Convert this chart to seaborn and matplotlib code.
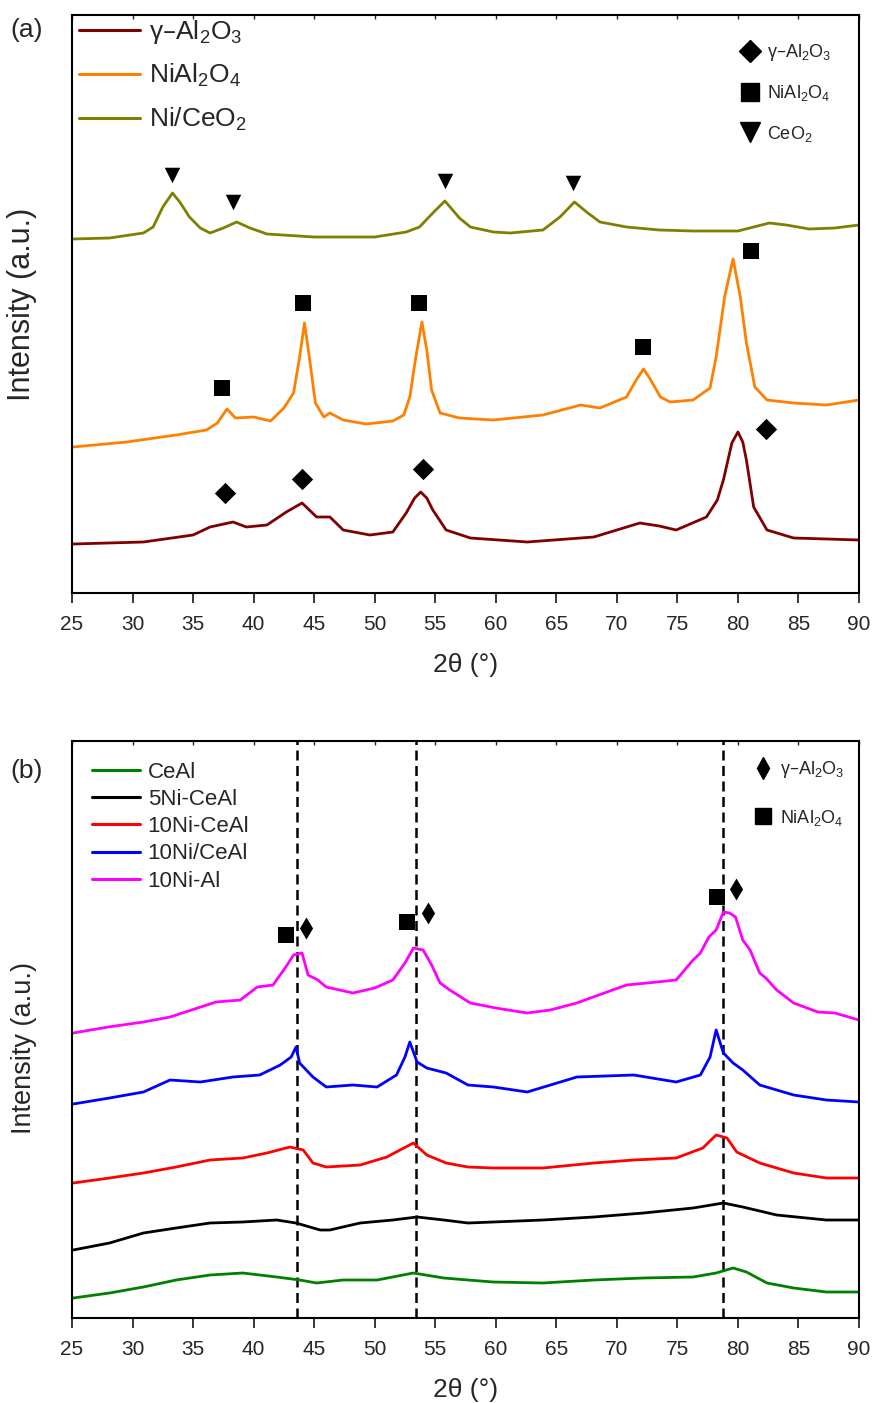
import matplotlib
matplotlib.use("Agg")
import matplotlib.pyplot as plt
from matplotlib.lines import Line2D
import numpy as np
import pandas as pd
import seaborn as sns

# ---------------- panel (a): 2theta (deg) / intensity (a.u.) ----------------
ceo2_tt = [25.1, 28.1, 30.9, 31.7, 32.5, 33.3, 33.9, 34.7, 35.6, 36.4, 37.5, 38.6, 39.7,
           41.1, 45.0, 50.0, 52.6, 53.7, 54.8, 55.8, 57.0, 57.9, 59.8, 61.2, 63.9, 65.3,
           66.5, 67.5, 68.6, 70.8, 73.5, 76.3, 80.0, 82.6, 84.0, 85.9, 88.0, 90.0]
ceo2_int = [354, 355, 360, 366, 386, 400, 391, 376, 365, 360, 365, 371, 365,
            359, 356, 356, 361, 366, 380, 392, 375, 366, 361, 360, 363, 376,
            391, 381, 371, 366, 363, 362, 362, 370, 368, 364, 365, 368]

nial_tt = [25.1, 29.5, 33.6, 36.1, 37.0, 37.8, 38.5, 40.0, 41.4, 42.5, 43.3, 43.8, 44.2,
           44.6, 45.1, 45.8, 46.3, 47.4, 49.3, 51.5, 52.4, 52.9, 53.4, 53.9, 54.3, 54.7,
           55.4, 57.0, 59.8, 63.9, 67.0, 68.6, 70.8, 71.6, 72.2, 72.7, 73.6, 74.4, 76.3,
           77.7, 78.2, 78.9, 79.6, 80.2, 80.7, 81.4, 82.4, 84.6, 87.3, 90.0]
nial_int = [146, 151, 158, 163, 170, 184, 175, 176, 172, 185, 200, 236, 270,
            236, 190, 176, 180, 173, 169, 172, 178, 196, 236, 271, 243, 203,
            180, 175, 173, 178, 188, 185, 196, 213, 224, 215, 196, 191, 193,
            205, 236, 296, 334, 296, 250, 206, 193, 190, 188, 193]

gal_tt = [25.1, 30.9, 35.0, 36.4, 38.3, 39.4, 41.1, 42.7, 44.0, 45.2, 46.3, 47.4, 49.6,
          51.5, 52.6, 53.3, 53.8, 54.3, 54.8, 55.9, 57.9, 62.6, 68.1, 70.0, 71.9, 73.5,
          74.9, 77.4, 78.3, 78.8, 79.5, 80.0, 80.4, 80.7, 81.3, 82.4, 84.6, 90.0]
gal_int = [49, 51, 58, 66, 71, 66, 68, 81, 90, 76, 76, 63, 58,
           61, 80, 95, 101, 95, 83, 63, 55, 51, 56, 63, 70, 67,
           63, 76, 93, 113, 150, 161, 151, 133, 86, 63, 55, 53]

# reference phase markers, panel (a)
tri_a_tt = [33.3, 38.3, 55.8, 66.4]
tri_a_int = [418, 391, 412, 410]
sq_a_tt = [37.4, 44.1, 53.7, 72.2, 81.1]
sq_a_int = [205, 290, 290, 246, 342]
dia_a_tt = [37.6, 44.0, 54.0, 82.3]
dia_a_int = [100, 114, 124, 164]

# ---------------- panel (b) ----------------
nial_b_tt = [25.1, 28.0, 30.9, 33.1, 36.9, 38.9, 40.3, 41.6, 42.6, 43.3, 44.0, 44.5, 45.3,
             46.0, 48.2, 50.0, 51.5, 52.5, 53.2, 54.0, 54.7, 55.4, 56.2, 57.9, 60.0, 62.6,
             64.5, 66.7, 68.5, 70.8, 72.5, 74.9, 76.3, 76.9, 77.6, 78.2, 78.8, 79.3, 79.8,
             80.4, 81.0, 81.8, 82.3, 83.2, 84.6, 86.6, 88.0, 90.0]
nial_b_int = [285, 291, 296, 301, 316, 318, 331, 333, 350, 363, 365, 343, 338,
              331, 325, 330, 338, 355, 370, 368, 353, 335, 328, 315, 310, 305,
              308, 315, 323, 333, 335, 338, 358, 365, 381, 388, 406, 405, 401,
              378, 368, 345, 340, 328, 315, 306, 305, 298]

nice_imp_tt = [25.1, 28.1, 30.9, 33.1, 35.6, 38.3, 40.5, 42.2, 43.1, 43.5, 43.8, 44.9, 46.0,
               48.2, 50.2, 51.8, 52.5, 52.9, 53.5, 54.3, 55.9, 57.7, 59.8, 62.6, 66.7, 71.4,
               74.9, 76.9, 77.7, 78.2, 78.8, 79.6, 80.4, 81.8, 84.6, 87.3, 90.0]
nice_imp_int = [214, 220, 226, 238, 236, 241, 243, 253, 261, 271, 255, 241, 231,
                233, 231, 243, 261, 276, 256, 250, 245, 233, 231, 226, 241, 243,
                236, 243, 261, 288, 265, 255, 248, 233, 223, 218, 216]

ni10_tt = [25.1, 28.1, 30.9, 33.6, 36.4, 39.1, 41.1, 43.0, 44.1, 44.9, 46.0, 48.8, 51.0,
           52.4, 53.2, 54.3, 55.9, 57.7, 59.8, 63.9, 68.1, 71.4, 74.9, 77.1, 78.2, 79.1,
           79.9, 81.8, 84.6, 87.3, 90.0]
ni10_int = [135, 140, 145, 151, 158, 160, 165, 171, 168, 155, 151, 153, 161,
            170, 175, 163, 155, 151, 150, 150, 155, 158, 160, 170, 183, 180,
            166, 155, 145, 140, 140]

ni5_tt = [25.1, 28.1, 30.9, 33.6, 36.4, 39.1, 41.9, 43.5, 45.5, 46.3, 48.8, 51.5, 53.5,
          55.7, 57.7, 59.8, 63.9, 68.1, 72.2, 76.3, 78.8, 80.4, 83.2, 87.3, 90.0]
ni5_int = [68, 75, 85, 90, 95, 96, 98, 95, 88, 88, 95, 98, 101,
           98, 95, 96, 98, 101, 105, 110, 115, 111, 103, 98, 98]

ceal_tt = [25.1, 28.1, 30.9, 33.6, 36.4, 39.1, 41.9, 43.8, 45.2, 47.4, 50.2, 53.2, 55.7,
           57.7, 59.8, 63.9, 68.1, 72.2, 76.3, 78.2, 79.6, 80.7, 82.4, 84.6, 87.3, 90.0]
ceal_int = [20, 25, 31, 38, 43, 45, 41, 38, 35, 38, 38, 45, 40,
            38, 36, 35, 38, 40, 41, 45, 50, 46, 35, 30, 26, 26]

ref_lines_b = [43.6, 53.4, 78.8]
sq_b_tt = [42.7, 52.7, 78.25]
sq_b_int = [383, 396, 421]
dia_b_tt = [44.3, 54.4, 79.8]
dia_b_int = [390, 405, 429]

labels_a = [r"γ–Al$_2$O$_3$", r"NiAl$_2$O$_4$", r"Ni/CeO$_2$"]
colors_a = ["#800000", "#FF8000", "#808000"]
labels_b = ["CeAl", "5Ni-CeAl", "10Ni-CeAl", "10Ni/CeAl", "10Ni-Al"]
colors_b = ["#008000", "#000000", "#FF0000", "#0000FF", "#FF00FF"]


def long_frame(names, series):
    parts = []
    for name, (tt, inten) in zip(names, series):
        parts.append(pd.DataFrame({"two_theta": tt, "intensity": inten, "sample": name}))
    return pd.concat(parts, ignore_index=True)


df_a = long_frame(labels_a, [(gal_tt, gal_int), (nial_tt, nial_int), (ceo2_tt, ceo2_int)])
df_b = long_frame(labels_b, [(ceal_tt, ceal_int), (ni5_tt, ni5_int), (ni10_tt, ni10_int),
                             (nice_imp_tt, nice_imp_int), (nial_b_tt, nial_b_int)])

sns.set_style("ticks")
plt.rcParams["font.family"] = ["Liberation Sans", "DejaVu Sans"]
plt.rcParams["mathtext.default"] = "regular"

W, H = 874, 1403
fig = plt.figure(figsize=(W / 100, H / 100), dpi=100)
fig.patch.set_facecolor("white")

ax_a = fig.add_axes([72 / W, (H - 593) / H, 787 / W, 578 / H])
ax_b = fig.add_axes([72 / W, (H - 1318) / H, 787 / W, 577 / H])


def style_axes(ax, ytop, ylab_size, ylab_y):
    ax.set_xlim(25, 90)
    ax.set_ylim(0, ytop)
    ax.set_xticks(np.arange(25, 91, 5))
    ax.set_yticks([])
    ax.tick_params(axis="x", direction="out", length=7.5, width=1.3, labelsize=15, pad=8.5)
    top = ax.secondary_xaxis("top")
    top.set_xticks(np.arange(25, 91, 5))
    top.tick_params(direction="in", length=3, width=1.0, labeltop=False)
    top.spines["top"].set_visible(False)
    for s in ax.spines.values():
        s.set_visible(True)
        s.set_linewidth(1.5)
        s.set_color("black")
    ax.set_xlabel("2θ (°)", fontsize=19)
    ax.set_ylabel("Intensity (a.u.)", fontsize=ylab_size)
    ax.xaxis.set_label_coords(0.5, -0.104)
    ax.yaxis.set_label_coords(-0.045, ylab_y)


# ---------------- panel (a) ----------------
sns.lineplot(data=df_a, x="two_theta", y="intensity", hue="sample", hue_order=labels_a,
             palette=dict(zip(labels_a, colors_a)), sort=False, estimator=None,
             linewidth=2.0, legend=False, ax=ax_a)
sns.scatterplot(x=tri_a_tt, y=tri_a_int, marker="v", s=125, color="black", linewidth=0, ax=ax_a, zorder=5)
sns.scatterplot(x=sq_a_tt, y=sq_a_int, marker="s", s=130, color="black", linewidth=0, ax=ax_a, zorder=5)
sns.scatterplot(x=dia_a_tt, y=dia_a_int, marker="D", s=118, color="black", linewidth=0, ax=ax_a, zorder=5)
style_axes(ax_a, 578, 22, 0.5)

leg1 = ax_a.legend(ax_a.get_lines()[:3], labels_a, loc="upper left", bbox_to_anchor=(0.009, 0.995),
                   frameon=False, fontsize=19, handlelength=2.3, handletextpad=0.34,
                   labelspacing=0.62, borderpad=0, borderaxespad=0)
for h in leg1.legend_handles:
    h.set_linewidth(2.2)
ax_a.add_artist(leg1)
phase_a = [Line2D([], [], ls="none", marker="D", color="black", markersize=11),
           Line2D([], [], ls="none", marker="s", color="black", markersize=13),
           Line2D([], [], ls="none", marker="v", color="black", markersize=14)]
ax_a.legend(phase_a, [r"γ–Al$_2$O$_3$", r"NiAl$_2$O$_4$", r"CeO$_2$"], loc="upper left",
            bbox_to_anchor=(0.850, 0.953), frameon=False, fontsize=13, handlelength=1.0,
            handletextpad=0.45, labelspacing=1.12, borderpad=0, borderaxespad=0)

# ---------------- panel (b) ----------------
sns.lineplot(data=df_b, x="two_theta", y="intensity", hue="sample", hue_order=labels_b,
             palette=dict(zip(labels_b, colors_b)), sort=False, estimator=None,
             linewidth=2.0, legend=False, ax=ax_b)
for xv in ref_lines_b:
    ax_b.axvline(xv, color="black", linewidth=1.8, linestyle=(0, (4, 2.2)), zorder=1)
sns.scatterplot(x=sq_b_tt, y=sq_b_int, marker="s", s=130, color="black", linewidth=0, ax=ax_b, zorder=5)
sns.scatterplot(x=dia_b_tt, y=dia_b_int, marker="d", s=125, color="black", linewidth=0, ax=ax_b, zorder=5)
style_axes(ax_b, 577, 19.5, 0.468)

leg2 = ax_b.legend(ax_b.get_lines()[:5], labels_b, loc="upper left", bbox_to_anchor=(0.025, 0.964),
                   frameon=False, fontsize=16, handlelength=2.16, handletextpad=0.36,
                   labelspacing=0.28, borderpad=0, borderaxespad=0)
for h in leg2.legend_handles:
    h.set_linewidth(2.2)
ax_b.add_artist(leg2)
phase_b = [Line2D([], [], ls="none", marker="d", color="black", markersize=11),
           Line2D([], [], ls="none", marker="s", color="black", markersize=11)]
ax_b.legend(phase_b, [r"γ–Al$_2$O$_3$", r"NiAl$_2$O$_4$"], loc="upper left",
            bbox_to_anchor=(0.866, 0.968), frameon=False, fontsize=13, handlelength=1.0,
            handletextpad=0.45, labelspacing=1.5, borderpad=0, borderaxespad=0)

fig.text(10 / W, 1 - 30 / H, "(a)", fontsize=19, va="center", ha="left")
fig.text(10 / W, 1 - 771 / H, "(b)", fontsize=19, va="center", ha="left")

fig.savefig("out.png", dpi=100)
